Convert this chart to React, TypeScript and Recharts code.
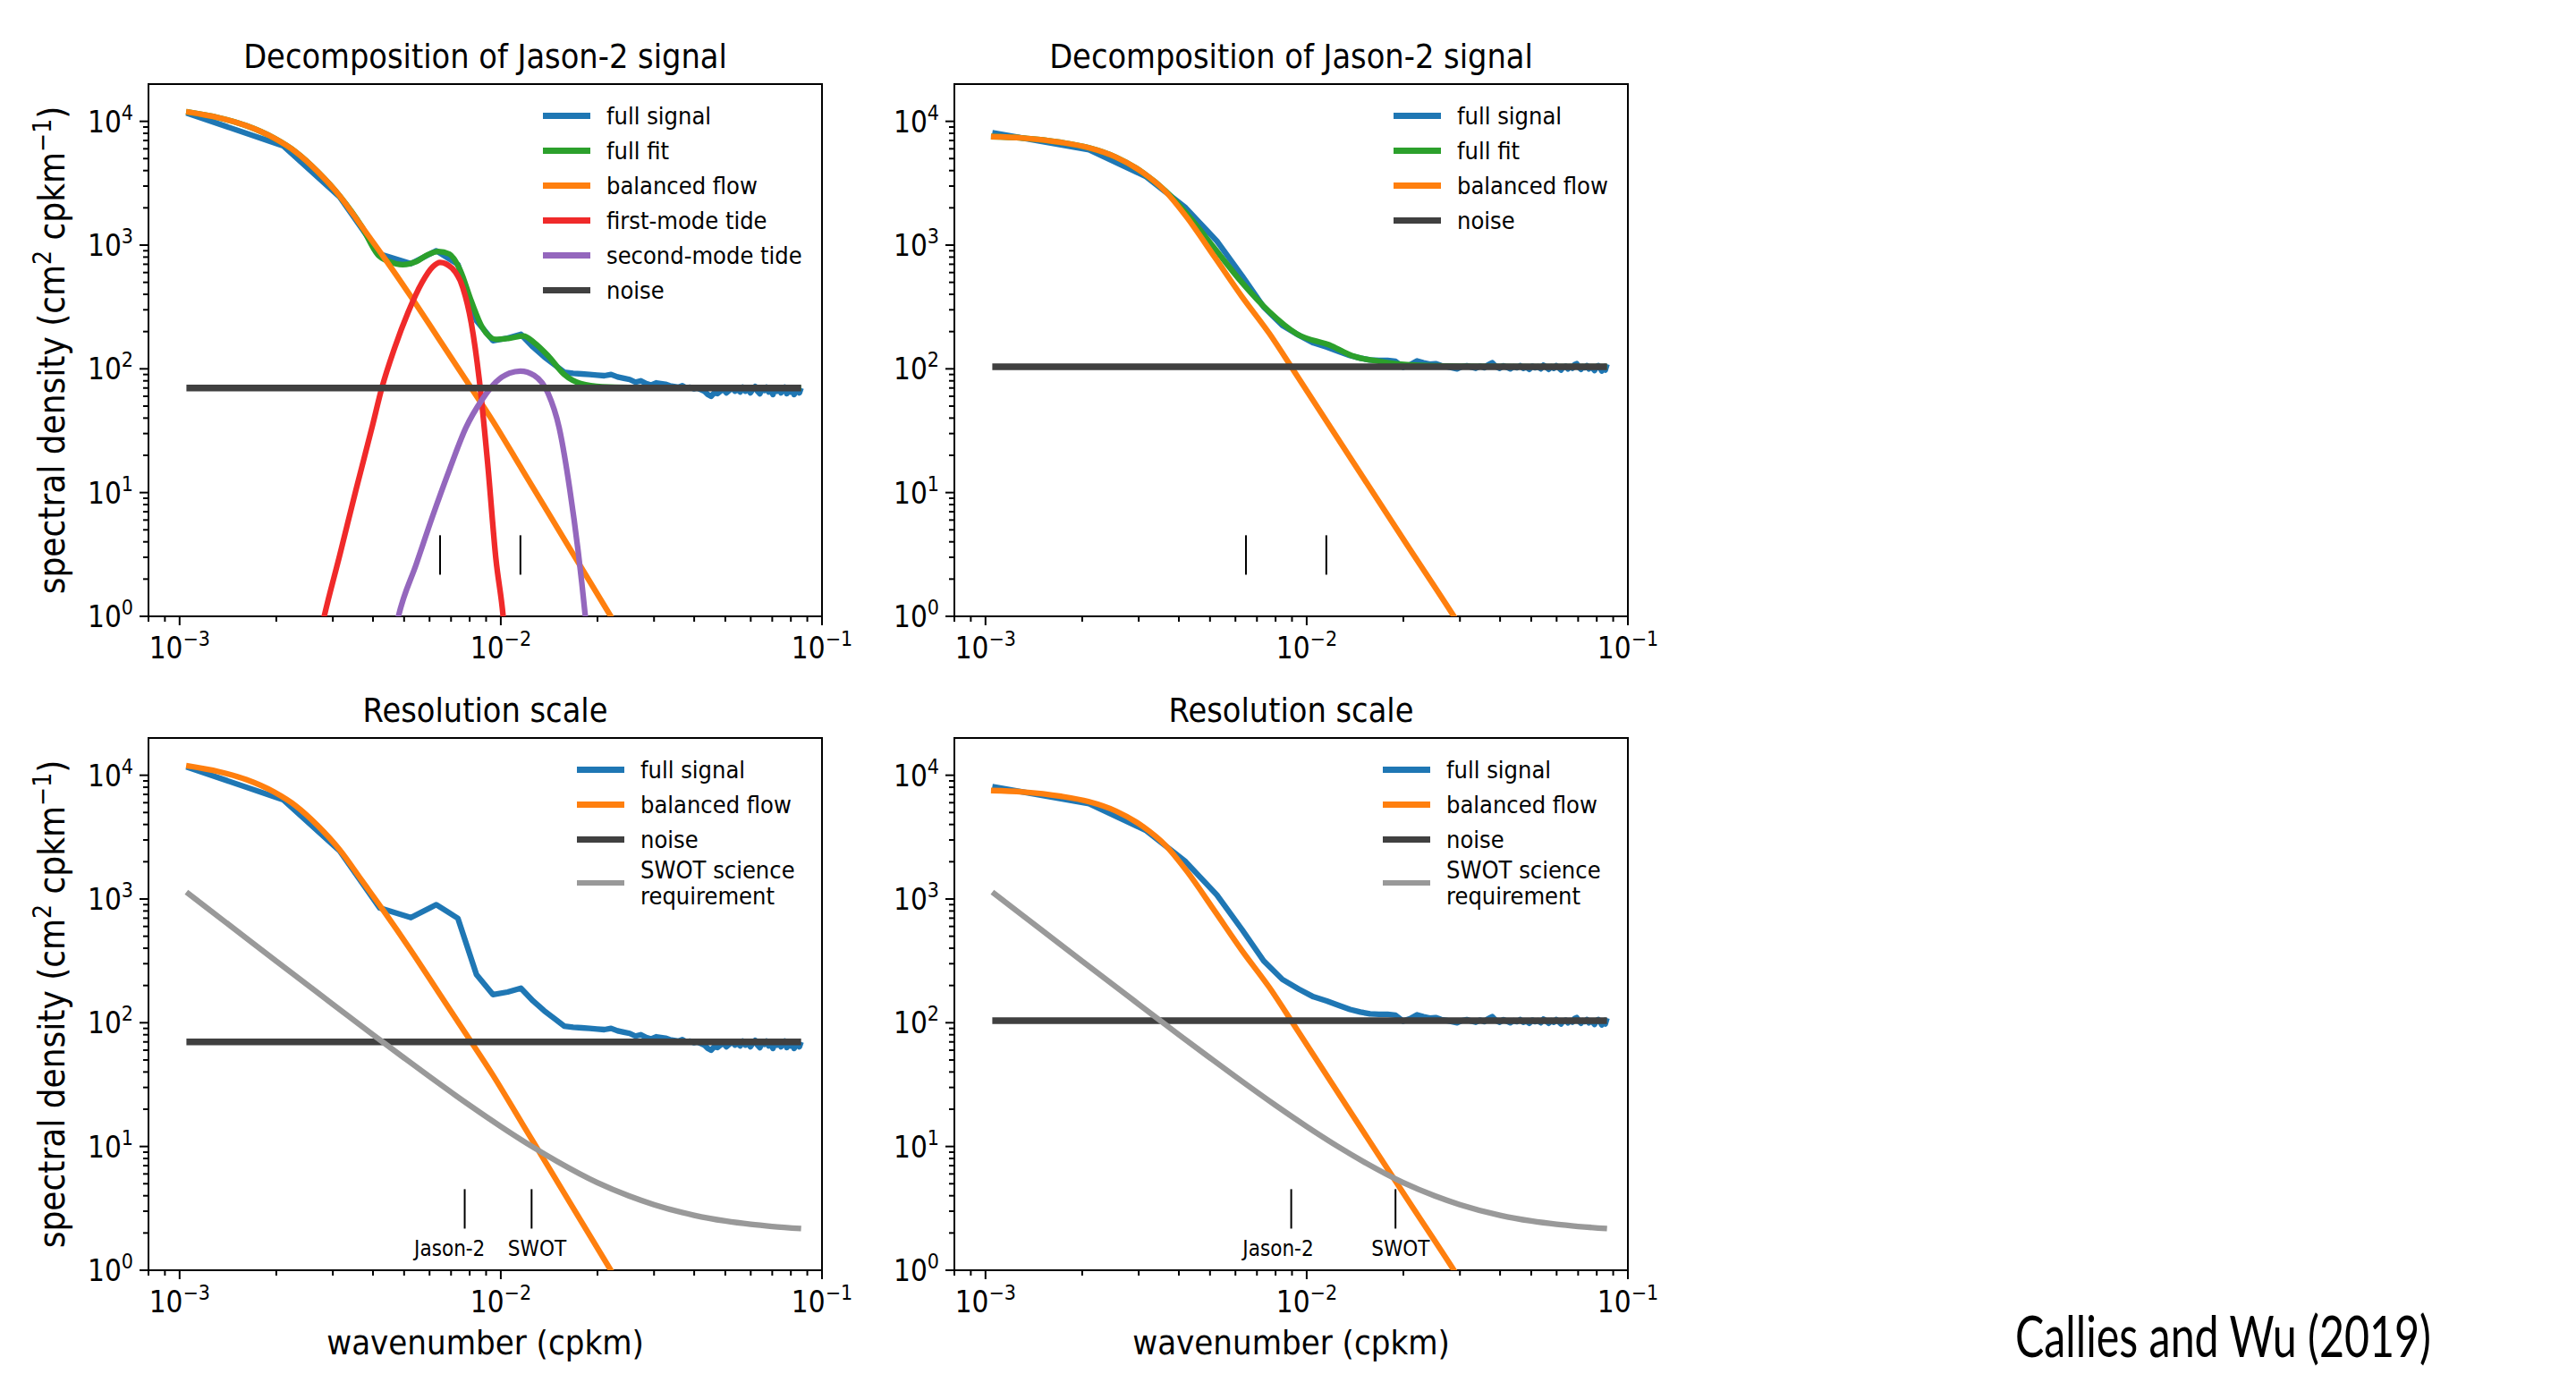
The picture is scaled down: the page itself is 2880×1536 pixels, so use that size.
import React from 'react';
import { LineChart, Line, XAxis, YAxis, ReferenceArea, ReferenceLine, ReferenceDot } from 'recharts';

const FONT = "'DejaVu Sans', 'Liberation Sans', sans-serif";
const SX = 0.9; // horizontal squeeze of the reference lettering

// wavenumbers of the raw spectra (cpkm)
const wavenumbers = [
  0.00105, 0.0021, 0.00315, 0.0042, 0.00525, 0.0063, 0.00735, 0.0084, 0.00945, 0.0105,
  0.01155, 0.0126, 0.01365, 0.0147, 0.01575, 0.0168, 0.01785, 0.0189, 0.01995, 0.021,
  0.02205, 0.0231, 0.02415, 0.0252, 0.02625, 0.0273, 0.02835, 0.0294, 0.03045, 0.0315,
  0.03255, 0.0336, 0.03465, 0.0357, 0.03675, 0.0378, 0.03885, 0.0399, 0.04095, 0.042,
  0.04305, 0.0441, 0.04515, 0.0462, 0.04725, 0.0483, 0.04935, 0.0504, 0.05145, 0.0525,
  0.05355, 0.0546, 0.05565, 0.0567, 0.05775, 0.0588, 0.05985, 0.0609, 0.06195, 0.063,
  0.06405, 0.0651, 0.06615, 0.0672, 0.06825, 0.0693, 0.07035, 0.0714, 0.07245, 0.0735,
  0.07455, 0.0756, 0.07665, 0.0777, 0.07875, 0.0798, 0.08085, 0.0819, 0.08295, 0.084,
  0.08505, 0.0861,
];

// full signal, left column
const fullSignalA = [
  11700, 6340, 2450, 845, 708, 900, 698, 245, 169, 177,
  190, 150, 125, 108, 94, 92, 91, 90, 89, 88,
  90, 86, 84, 82, 78, 80, 76, 74, 77, 76,
  75, 73, 72, 71, 73, 70, 71, 69, 70, 68,
  66, 62, 60, 64, 63, 66, 68, 64, 67, 70,
  66, 68, 65, 71, 66, 69, 64, 68, 72, 66,
  63, 69, 67, 71, 65, 68, 62, 70, 66, 69,
  64, 67, 71, 63, 68, 65, 70, 62, 66, 69,
  64, 70,
];

// full signal, right column
const fullSignalB = [
  8100, 5900, 3600, 2000, 1080, 563, 316, 224, 187, 162,
  150, 138, 128, 122, 118, 117, 117, 115, 103, 108,
  116, 112, 109, 110, 106, 104, 102, 100, 104, 106,
  103, 101, 105, 102, 108, 112, 104, 101, 106, 103,
  100, 104, 102, 106, 101, 103, 99, 105, 102, 104,
  100, 107, 103, 99, 104, 101, 106, 102, 98, 103,
  105, 100, 104, 101, 108, 110, 103, 99, 104, 102,
  106, 100, 103, 101, 97, 104, 106, 102, 96, 101,
  98, 109,
];

const balancedFlowA: [number, number][] = [
  [0.001048, 11960], [0.001328, 10670], [0.001614, 9220], [0.001967, 7330], [0.002302, 5650],
  [0.002693, 3915], [0.00315, 2500], [0.00369, 1413], [0.00432, 800], [0.00525, 384],
  [0.00639, 177], [0.00778, 81.6], [0.00946, 37.6], [0.01151, 16.2], [0.01402, 6.94],
  [0.01706, 2.98], [0.022, 1.0], [0.026, 0.49],
];

const balancedFlowB: [number, number][] = [
  [0.00104, 7520], [0.001306, 7330], [0.00172, 6760], [0.00209, 6130], [0.00255, 5130],
  [0.0031, 3830], [0.00363, 2720], [0.00424, 1670], [0.00517, 800], [0.00628, 385],
  [0.00765, 193], [0.0093, 89], [0.0138, 18.4], [0.0205, 3.8], [0.0291, 0.95], [0.034, 0.5],
];

const fullFitA: [number, number][] = [
  [0.001048, 11960], [0.001328, 10670], [0.001614, 9220], [0.001967, 7330], [0.002302, 5650],
  [0.002693, 3915], [0.00315, 2500], [0.00369, 1413], [0.00415, 832], [0.00449, 736],
  [0.00495, 695], [0.00546, 736], [0.0059, 832], [0.00639, 889], [0.00692, 846],
  [0.00748, 625], [0.00809, 354], [0.00875, 217], [0.00966, 173], [0.01064, 177],
  [0.01176, 184], [0.0127, 163], [0.01402, 128], [0.01576, 90], [0.01773, 76],
  [0.0207, 71.6], [0.0308, 70.3], [0.0861, 70],
];

const fullFitB: [number, number][] = [
  [0.00104, 7520], [0.001306, 7330], [0.00172, 6760], [0.00209, 6130], [0.00255, 5130],
  [0.0031, 3830], [0.00363, 2750], [0.00424, 1780], [0.00517, 940], [0.00628, 500],
  [0.00765, 289], [0.0093, 192], [0.01198, 153], [0.0138, 128], [0.0168, 115],
  [0.0205, 108], [0.0303, 105], [0.0861, 104],
];

const firstModeTide: [number, number][] = [
  [0.0027, 0.6], [0.00282, 1.0], [0.00315, 3.1], [0.00354, 10.5], [0.00399, 35.2], [0.00426, 69.8],
  [0.00466, 145], [0.00515, 288], [0.00568, 497], [0.00614, 668], [0.00647, 725], [0.00705, 651],
  [0.00762, 452], [0.00809, 236], [0.00857, 81.7], [0.0091, 17.3], [0.00966, 2.88],
  [0.01017, 1.0], [0.0104, 0.5],
];

const secondModeTide: [number, number][] = [
  [0.0046, 0.6], [0.0048, 1.0], [0.00546, 2.66], [0.00614, 6.5], [0.00692, 15.3], [0.00778, 33.3],
  [0.00875, 56.5], [0.00966, 78.3], [0.01064, 92.3], [0.01151, 96], [0.0127, 88.5],
  [0.01402, 63.8], [0.0152, 33.3], [0.0164, 10.6], [0.0174, 3.4], [0.01833, 1.0],
  [0.0188, 0.5],
];

const swotRequirement: [number, number][] = [
  [0.00105, 1136], [0.0015, 558], [0.002, 314], [0.003, 141], [0.004, 80], [0.005, 52],
  [0.006, 36.7], [0.008, 21.5], [0.01, 14.5], [0.0125, 10], [0.015, 7.56], [0.02, 5.1],
  [0.025, 4.0], [0.03, 3.39], [0.04, 2.78], [0.05, 2.5], [0.06, 2.35], [0.07, 2.26], [0.0861, 2.17],
];

const noiseLevelA = 70;
const noiseLevelB = 104;
const noiseRange = [0.00105, 0.0861];

const tideMarkers = [0.00647, 0.01151];
const resolutionA = [0.00772, 0.01247];
const resolutionB = [0.00895, 0.0189];
const labelPosA = [0.00693, 0.01297];
const labelPosB = [0.00815, 0.0196];
const resolutionLabels = ['Jason-2', 'SWOT'];
const markerSpan = [2.17, 4.52];

const xTicks = [
  0.0008, 0.0009, 0.001, 0.002, 0.003, 0.004, 0.005, 0.006, 0.007, 0.008, 0.009,
  0.01, 0.02, 0.03, 0.04, 0.05, 0.06, 0.07, 0.08, 0.09, 0.1,
];
const yTicks = [
  1, 2, 3, 4, 5, 6, 7, 8, 9, 10, 20, 30, 40, 50, 60, 70, 80, 90,
  100, 200, 300, 400, 500, 600, 700, 800, 900, 1000, 2000, 3000, 4000, 5000, 6000, 7000, 8000, 9000,
  10000, 20000,
];

const C = {
  blue: '#1f77b4',
  green: '#2ca02c',
  orange: '#ff7f0e',
  red: '#f02a2a',
  purple: '#9467bd',
  noise: '#404040',
  gray: '#999999',
};

const PLOT_W = 753;
const PLOT_H = 595;
const Y_AXIS_W = 166;
const X_AXIS_H = 100;
const M_TOP = 10;
const M_RIGHT = 60;

const pairs = (arr: [number, number][]) => arr.map(([x, y]) => ({ x, y }));
const zipSeries = (xs: number[], ys: number[]) => xs.map((x, i) => ({ x, y: ys[i] }));
const flat = (lvl: number) => noiseRange.map((x) => ({ x, y: lvl }));

const isMajor = (v: number) => Math.abs(Math.log10(v) - Math.round(Math.log10(v))) < 1e-6;
const expText = (e: number) => (e < 0 ? '\u2212' + Math.abs(e) : String(e));

const XTick = (props: any) => {
  const { x, y, payload } = props;
  const v = payload.value;
  const major = isMajor(v);
  const e = Math.round(Math.log10(v));
  return (
    <g>
      <line x1={x} y1={y} x2={x} y2={y + (major ? 10 : 6)} stroke="#000" strokeWidth={2} />
      {major && (
        <text transform={`translate(${x},${y + 47}) scale(${SX},1)`} textAnchor="middle" fontFamily={FONT} fontSize={33} fill="#000">
          10<tspan dy={-14} fontSize={23}>{expText(e)}</tspan>
        </text>
      )}
    </g>
  );
};

const YTick = (props: any) => {
  const { x, y, payload } = props;
  const v = payload.value;
  const major = isMajor(v);
  const e = Math.round(Math.log10(v));
  if (v > 15000) return <g />;
  return (
    <g>
      <line x1={x} y1={y} x2={x - (major ? 10 : 6)} y2={y} stroke="#000" strokeWidth={2} />
      {major && (
        <text transform={`translate(${x - 17},${y + 12}) scale(${SX},1)`} textAnchor="end" fontFamily={FONT} fontSize={33} fill="#000">
          10<tspan dy={-14} fontSize={23}>{expText(e)}</tspan>
        </text>
      )}
    </g>
  );
};

type Series = { data: { x: number; y: number }[]; color: string; width: number; type: 'linear' | 'monotone' };
type LegendItem = { label: string[]; color: string; width: number };

type PanelProps = {
  plotLeft: number;
  plotTop: number;
  series: Series[];
  markers: number[];
  labels?: string[];
  labelPos?: number[];
};

const TextLabel = (txt: string) => (p: any) => (
  <text transform={`translate(${p.cx},${p.cy}) scale(${SX},1)`} textAnchor="middle" fontFamily={FONT} fontSize={24} fill="#000">
    {txt}
  </text>
);

const Panel = ({ plotLeft, plotTop, series, markers, labels, labelPos }: PanelProps) => {
  const W = Y_AXIS_W + PLOT_W + M_RIGHT;
  const H = M_TOP + PLOT_H + X_AXIS_H;
  return (
    <div style={{ position: 'absolute', left: plotLeft - Y_AXIS_W, top: plotTop - M_TOP, width: W, height: H }}>
      <LineChart width={W} height={H} margin={{ top: M_TOP, right: M_RIGHT, left: 0, bottom: 0 }}>
        <XAxis
          type="number"
          dataKey="x"
          scale="log"
          domain={[0.0008, 0.1]}
          allowDataOverflow
          ticks={xTicks}
          interval={0}
          tickSize={0}
          tickMargin={0}
          axisLine={false}
          tickLine={false}
          tick={<XTick />}
          height={X_AXIS_H}
        />
        <YAxis
          type="number"
          dataKey="y"
          scale="log"
          domain={[1, 20000]}
          allowDataOverflow
          ticks={yTicks}
          interval={0}
          tickSize={0}
          tickMargin={0}
          axisLine={false}
          tickLine={false}
          tick={<YTick />}
          width={Y_AXIS_W}
        />
        {series.map((s, i) => (
          <Line
            key={i}
            data={s.data}
            dataKey="y"
            type={s.type}
            stroke={s.color}
            strokeWidth={s.width}
            dot={false}
            activeDot={false}
            isAnimationActive={false}
            strokeLinejoin="round"
          />
        ))}
        {markers.map((m, i) => (
          <ReferenceLine
            key={'m' + i}
            segment={[{ x: m, y: markerSpan[0] }, { x: m, y: markerSpan[1] }]}
            stroke="#000"
            strokeWidth={2}
            ifOverflow="visible"
          />
        ))}
        {labels &&
          labelPos &&
          labelPos.map((m, i) => (
            <ReferenceDot key={'l' + i} x={m} y={1.3} r={0} ifOverflow="visible" shape={TextLabel(labels[i])} />
          ))}
        <ReferenceArea x1={0.0008} x2={0.1} y1={1} y2={20000} fill="none" stroke="#000" strokeWidth={2} ifOverflow="visible" />
      </LineChart>
    </div>
  );
};

const LegendBox = ({ left, top, items }: { left: number; top: number; items: LegendItem[] }) => (
  <div style={{ position: 'absolute', left, top, fontFamily: FONT, fontSize: 27, color: '#000' }}>
    {items.map((it, i) => (
      <div key={i} style={{ display: 'flex', alignItems: 'center', minHeight: 39 }}>
        <div style={{ width: 53, height: it.width, background: it.color, marginRight: 18, flexShrink: 0 }} />
        <div style={{ lineHeight: it.label.length > 1 ? '29px' : '39px', whiteSpace: 'nowrap' }}>
          {it.label.map((l, j) => (
            <div key={j} style={{ transform: `scaleX(${SX})`, transformOrigin: 'left center' }}>{l}</div>
          ))}
        </div>
      </div>
    ))}
  </div>
);

const LW = 6.3;
const NW = 7.5;

export default function App() {
  const sigA = zipSeries(wavenumbers, fullSignalA);
  const sigB = zipSeries(wavenumbers, fullSignalB);

  const topLeft: Series[] = [
    { data: sigA, color: C.blue, width: LW, type: 'linear' },
    { data: pairs(fullFitA), color: C.green, width: LW, type: 'monotone' },
    { data: pairs(balancedFlowA), color: C.orange, width: LW, type: 'monotone' },
    { data: pairs(firstModeTide), color: C.red, width: LW, type: 'monotone' },
    { data: pairs(secondModeTide), color: C.purple, width: LW, type: 'monotone' },
    { data: flat(noiseLevelA), color: C.noise, width: NW, type: 'linear' },
  ];
  const topRight: Series[] = [
    { data: sigB, color: C.blue, width: LW, type: 'linear' },
    { data: pairs(fullFitB), color: C.green, width: LW, type: 'monotone' },
    { data: pairs(balancedFlowB), color: C.orange, width: LW, type: 'monotone' },
    { data: flat(noiseLevelB), color: C.noise, width: NW, type: 'linear' },
  ];
  const botLeft: Series[] = [
    { data: sigA, color: C.blue, width: LW, type: 'linear' },
    { data: pairs(balancedFlowA), color: C.orange, width: LW, type: 'monotone' },
    { data: flat(noiseLevelA), color: C.noise, width: NW, type: 'linear' },
    { data: pairs(swotRequirement), color: C.gray, width: LW, type: 'monotone' },
  ];
  const botRight: Series[] = [
    { data: sigB, color: C.blue, width: LW, type: 'linear' },
    { data: pairs(balancedFlowB), color: C.orange, width: LW, type: 'monotone' },
    { data: flat(noiseLevelB), color: C.noise, width: NW, type: 'linear' },
    { data: pairs(swotRequirement), color: C.gray, width: LW, type: 'monotone' },
  ];

  const legTop: LegendItem[] = [
    { label: ['full signal'], color: C.blue, width: LW },
    { label: ['full fit'], color: C.green, width: LW },
    { label: ['balanced flow'], color: C.orange, width: LW },
    { label: ['first-mode tide'], color: C.red, width: LW },
    { label: ['second-mode tide'], color: C.purple, width: LW },
    { label: ['noise'], color: C.noise, width: NW },
  ];
  const legTopR: LegendItem[] = [
    { label: ['full signal'], color: C.blue, width: LW },
    { label: ['full fit'], color: C.green, width: LW },
    { label: ['balanced flow'], color: C.orange, width: LW },
    { label: ['noise'], color: C.noise, width: NW },
  ];
  const legBot: LegendItem[] = [
    { label: ['full signal'], color: C.blue, width: LW },
    { label: ['balanced flow'], color: C.orange, width: LW },
    { label: ['noise'], color: C.noise, width: NW },
    { label: ['SWOT science', 'requirement'], color: C.gray, width: LW },
  ];

  const cols = [166, 1067];
  const rows = [94, 825];
  const cx = (l: number) => l + PLOT_W / 2;
  const T = (x: number, y: number) => `translate(${x},${y}) scale(${SX},1)`;

  return (
    <div style={{ position: 'absolute', left: 0, top: 0, width: 2880, height: 1536, background: '#fff' }}>
      <Panel plotLeft={cols[0]} plotTop={rows[0]} series={topLeft} markers={tideMarkers} />
      <Panel plotLeft={cols[1]} plotTop={rows[0]} series={topRight} markers={tideMarkers} />
      <Panel plotLeft={cols[0]} plotTop={rows[1]} series={botLeft} markers={resolutionA} labels={resolutionLabels} labelPos={labelPosA} />
      <Panel plotLeft={cols[1]} plotTop={rows[1]} series={botRight} markers={resolutionB} labels={resolutionLabels} labelPos={labelPosB} />

      <LegendBox left={607} top={110} items={legTop} />
      <LegendBox left={1558} top={110} items={legTopR} />
      <LegendBox left={645} top={841} items={legBot} />
      <LegendBox left={1546} top={841} items={legBot} />

      <svg width={2880} height={1536} style={{ position: 'absolute', left: 0, top: 0, pointerEvents: 'none' }}>
        <g fontFamily={FONT} fill="#000">
          <text transform={T(cx(cols[0]), rows[0] - 18)} textAnchor="middle" fontSize={37.5}>Decomposition of Jason-2 signal</text>
          <text transform={T(cx(cols[1]), rows[0] - 18)} textAnchor="middle" fontSize={37.5}>Decomposition of Jason-2 signal</text>
          <text transform={T(cx(cols[0]), rows[1] - 18)} textAnchor="middle" fontSize={37.5}>Resolution scale</text>
          <text transform={T(cx(cols[1]), rows[1] - 18)} textAnchor="middle" fontSize={37.5}>Resolution scale</text>
          <text transform={T(cx(cols[0]), 1514)} textAnchor="middle" fontSize={38}>wavenumber (cpkm)</text>
          <text transform={T(cx(cols[1]), 1514)} textAnchor="middle" fontSize={38}>wavenumber (cpkm)</text>
          {rows.map((r, i) => (
            <text key={i} transform={`translate(72,${r + PLOT_H / 2}) rotate(-90) scale(${SX},1)`} textAnchor="middle" fontSize={40}>
              spectral density (cm<tspan dy={-15} fontSize={28}>2</tspan><tspan dy={15}> cpkm</tspan>
              <tspan dy={-15} fontSize={28}>{'\u22121'}</tspan><tspan dy={15}>)</tspan>
            </text>
          ))}
        </g>
        <text x={2253} y={1517} fontFamily="Lato, 'Open Sans', sans-serif" fontSize={64} textLength={465} lengthAdjust="spacingAndGlyphs" fill="#000">
          Callies and Wu (2019)
        </text>
      </svg>
    </div>
  );
}
